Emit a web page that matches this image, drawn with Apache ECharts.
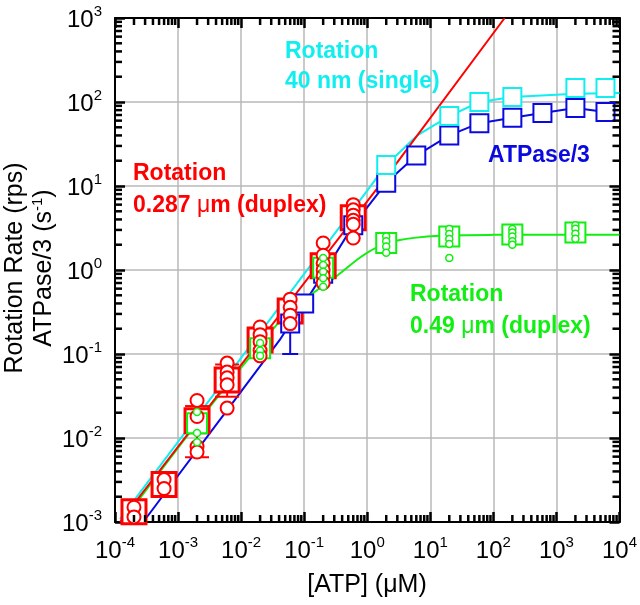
<!DOCTYPE html>
<html><head><meta charset="utf-8">
<script src="https://cdn.jsdelivr.net/npm/echarts@6/dist/echarts.min.js"></script>
<style>html,body{margin:0;padding:0;background:#fff}#c{width:640px;height:605px}</style>
</head><body><div id="c"></div>
<script>
// ---------- tick labels (exponents of 10) ----------
const xTickExponents = [-4, -3, -2, -1, 0, 1, 2, 3, 4];
const yTickExponents = [-3, -2, -1, 0, 1, 2, 3];

// ---------- Rotation 0.287 um (duplex) : red ----------
const redConc = [2e-4, 6e-4, 2e-3, 6e-3, 2e-2, 6e-2, 0.2, 0.6];
const redMean = [1.32e-3, 2.8e-3, 0.016, 0.049, 0.147, 0.325, 1.12, 4.2];
const redIndividual = [
  [2e-4,1.5e-3],[2e-4,1.15e-3],
  [6e-4,3.2e-3],[6e-4,2.5e-3],
  [2e-3,0.028],[2e-3,0.018],[2e-3,0.0079],[2e-3,0.0068],
  [6e-3,0.078],[6e-3,0.061],[6e-3,0.052],[6e-3,0.043],[6e-3,0.0227],
  [0.02,0.21],[0.02,0.17],[0.02,0.14],[0.02,0.11],[0.02,0.095],
  [0.06,0.45],[0.06,0.36],[0.06,0.29],[0.06,0.23],
  [0.2,2.1],[0.2,1.5],[0.2,1.2],[0.2,1.0],[0.2,0.85],[0.2,0.7],
  [0.6,6.0],[0.6,5.2],[0.6,4.5],[0.6,3.9],[0.6,3.5],[0.6,2.4]
];
const redErrorBars = [[2e-3, 0.0059, 0.024], [6e-3, 0.031, 0.075]];
const redFit = [[1.2e-4, 1e-3], [2.95, 18.8], [151, 1000]];

// ---------- Rotation 0.49 um (duplex) : green ----------
const greenConc = [2e-3, 0.02, 0.2, 2, 20, 200, 2000];
const greenMean = [0.015, 0.117, 1.06, 2.09, 2.5, 2.65, 2.8];
const greenIndividual = [
  [2e-3,0.0204],[2e-3,0.0115],[2e-3,0.0089],
  [0.02,0.135],[0.02,0.11],[0.02,0.095],
  [0.2,1.39],[0.2,1.15],[0.2,0.95],[0.2,0.8],[0.2,0.63],
  [2,2.5],[2,2.2],[2,1.9],[2,1.6],
  [20,3.07],[20,2.68],[20,2.34],[20,2.04],[20,1.39],
  [200,3.07],[200,2.8],[200,2.5],[200,2.2],[200,2.0],
  [2000,3.4],[2000,3.1],[2000,2.7],[2000,2.35]
];
const greenFit = [[1.3e-4,1e-3],[2e-3,0.015],[2e-2,0.13],[0.06,0.33],[0.2,0.65],[0.33,0.85],
  [0.76,1.4],[1.4,1.85],[3,2.25],[14,2.55],[100,2.62],[10000,2.63]];

// ---------- Rotation 40 nm (single) : cyan ----------
const cyanConc = [2, 20, 60, 200, 2000, 6000];
const cyanMean = [17.8, 68, 100, 115, 147, 147];
const cyanFit = [[1.2e-4,1.08e-3],[1e-3,9e-3],[1e-2,0.09],[0.1,0.9],[1,8.8],[2,17.8],
  [6.2,40],[20,68],[60,100],[200,115],[2000,125],[10000,128]];

// ---------- ATPase/3 : blue ----------
const blueConc = [0.06, 0.1, 0.2, 0.6, 2, 6, 20, 60, 200, 600, 2000, 6000];
const blueMean = [0.23, 0.40, 0.9, 3.4, 10.9, 23, 40, 56, 65, 74, 85, 76];
const blueErrorBars = [[0.06, 0.1, 0.33]];
const blueLine = [[2.8e-4,1e-3],[7.9e-3,0.0283],[0.041,0.147],[0.06,0.23],[0.1,0.40],[0.2,0.9],
  [0.6,3.4],[2,10.9],[6,23],[20,40],[60,56],[200,65],[600,74],[2000,85],[6000,76]];

// ---------- styling ----------
const RED = '#ff0000', GREEN = '#11ee11', CYAN = '#11eef0', BLUE = '#0a0ae0';
const FONT = 'Liberation Sans, Arial, sans-serif';
const xMin = Math.pow(10, xTickExponents[0]), xMax = Math.pow(10, xTickExponents[xTickExponents.length-1]);
const yMin = Math.pow(10, yTickExponents[0]), yMax = Math.pow(10, yTickExponents[yTickExponents.length-1]);

function pairs(xs, ys) { return xs.map((x, i) => [x, ys[i]]); }
function expLabel(v) {
  const e = Math.round(Math.log10(v));
  return '{b|10}{s|' + e + '}';
}
const labelRich = {
  b: { fontSize: 24, fontFamily: FONT, color: '#000', lineHeight: 28, verticalAlign: 'bottom' },
  s: { fontSize: 15, fontFamily: FONT, color: '#000', lineHeight: 28, verticalAlign: 'top' }
};

// minor tick positions (axis decoration only)
const xMinor = [], yMinor = [];
for (let e = xTickExponents[0]; e < xTickExponents[xTickExponents.length-1]; e++)
  for (let m = 2; m <= 9; m++) xMinor.push(m * Math.pow(10, e));
for (let e = yTickExponents[0]; e < yTickExponents[yTickExponents.length-1]; e++)
  for (let m = 2; m <= 9; m++) yMinor.push(m * Math.pow(10, e));

function baseAxis(pos, min, max, showLabel, showSplit) {
  return {
    type: 'log', logBase: 10, position: pos, min: min, max: max, interval: 1,
    axisLine: { show: true, onZero: false, lineStyle: { color: '#000', width: 2 } },
    axisTick: { show: true, inside: true, length: 10, lineStyle: { color: '#000', width: 2.5 } },
    axisLabel: { show: showLabel, formatter: expLabel, rich: labelRich, margin: 13 },
    splitLine: { show: showSplit, lineStyle: { color: '#b8b8b8', width: 1.5 } }
  };
}
function tickSeries(data, size, offset) {
  return { type: 'scatter', data: data, symbol: 'rect', symbolSize: size, symbolOffset: offset,
    z: 10, itemStyle: { color: '#000', opacity: 1 } };
}

const chart = echarts.init(document.getElementById('c'), null, { renderer: 'canvas' });

const sq = (c, w) => ({ color: '#fff', borderColor: c, borderWidth: w, opacity: 1 });

const option = {
  animation: false,
  backgroundColor: '#fff',
  grid: { left: 115, right: 20, top: 18, bottom: 83, containLabel: false },
  xAxis: [baseAxis('bottom', xMin, xMax, true, true), baseAxis('top', xMin, xMax, false, false)],
  yAxis: [baseAxis('left', yMin, yMax, true, true), baseAxis('right', yMin, yMax, false, false)],
  series: [
    // lines
    { type: 'line', data: blueLine, showSymbol: false, lineStyle: { color: BLUE, width: 2 }, z: 2 },
    { type: 'line', data: cyanFit, showSymbol: false, lineStyle: { color: CYAN, width: 2 }, z: 2 },
    { type: 'line', data: greenFit, showSymbol: false, smooth: 0.3, lineStyle: { color: GREEN, width: 2 }, z: 2 },
    { type: 'line', data: redFit, showSymbol: false, lineStyle: { color: RED, width: 2 }, z: 2 },
    // error bars
    {
      type: 'custom', z: 3, data: redErrorBars.map(d => d.concat([0])).concat(blueErrorBars.map(d => d.concat([1]))),
      encode: { x: 0, y: [1, 2] },
      renderItem: function (params, api) {
        const x = api.value(0), lo = api.value(1), hi = api.value(2);
        const isBlue = api.value(3) === 1;
        const c = isBlue ? BLUE : RED, w = isBlue ? 8 : 12;
        const a = api.coord([x, lo]), b = api.coord([x, hi]);
        return { type: 'group', children: [
          { type: 'line', shape: { x1: a[0], y1: a[1], x2: b[0], y2: b[1] }, style: { stroke: c, lineWidth: 2 } },
          { type: 'line', shape: { x1: a[0] - w, y1: a[1], x2: a[0] + w, y2: a[1] }, style: { stroke: c, lineWidth: 2 } },
          { type: 'line', shape: { x1: b[0] - w, y1: b[1], x2: b[0] + w, y2: b[1] }, style: { stroke: c, lineWidth: 2 } }
        ] };
      }
    },
    // squares
    { type: 'scatter', data: pairs(redConc, redMean), symbol: 'rect', symbolSize: 24, z: 4, itemStyle: sq(RED, 3) },
    { type: 'scatter', data: pairs(blueConc, blueMean), symbol: 'rect', symbolSize: 18, z: 4, itemStyle: sq(BLUE, 2) },
    { type: 'scatter', data: pairs(cyanConc, cyanMean), symbol: 'rect', symbolSize: 18, z: 4, itemStyle: sq(CYAN, 2) },
    { type: 'scatter', data: pairs(greenConc, greenMean), symbol: 'rect', symbolSize: 20, z: 4, itemStyle: sq(GREEN, 2) },
    // individual circles
    { type: 'scatter', data: redIndividual, symbol: 'circle', symbolSize: 13, z: 5, itemStyle: sq(RED, 2) },
    { type: 'scatter', data: greenIndividual, symbol: 'circle', symbolSize: 7, z: 6, itemStyle: sq(GREEN, 1.5) },
    // minor ticks on all four sides
    tickSeries(xMinor.map(v => [v, yMin]), [2.5, 7], [0, -3.5]),
    tickSeries(xMinor.map(v => [v, yMax]), [2.5, 7], [0, 3.5]),
    tickSeries(yMinor.map(v => [xMin, v]), [7, 2.5], [3.5, 0]),
    tickSeries(yMinor.map(v => [xMax, v]), [7, 2.5], [-3.5, 0])
  ],
  graphic: [
    { type: 'text', x: 15, y: 268, rotation: Math.PI / 2, style: {
      text: 'Rotation Rate (rps)', fill: '#000', font: '25px ' + FONT, align: 'center', verticalAlign: 'middle' } },
    { type: 'text', x: 44, y: 268, rotation: Math.PI / 2, style: {
      text: 'ATPase/3 (s{s|-1})', fill: '#000', font: '25px ' + FONT, align: 'center', verticalAlign: 'middle',
      rich: { s: { fontSize: 15, fontFamily: FONT, verticalAlign: 'top', lineHeight: 28 } } } },
    { type: 'text', x: 367, y: 585, style: {
      text: '[ATP] (μM)', fill: '#000', font: '25px ' + FONT, align: 'center', verticalAlign: 'middle' } },
    { type: 'text', x: 285, y: 52, z: 20, style: { text: 'Rotation', fill: CYAN, font: 'bold 23px ' + FONT, verticalAlign: 'middle' } },
    { type: 'text', x: 285, y: 82, z: 20, style: { text: '40 nm (single)', fill: CYAN, font: 'bold 23px ' + FONT, verticalAlign: 'middle' } },
    { type: 'text', x: 133, y: 174, z: 20, style: { text: 'Rotation', fill: RED, font: 'bold 23px ' + FONT, verticalAlign: 'middle' } },
    { type: 'text', x: 133, y: 206, z: 20, style: { text: '0.287 {m|μ}m (duplex)', fill: RED, font: 'bold 23px ' + FONT, verticalAlign: 'middle',
      rich: { m: { fontSize: 23, fontFamily: FONT, fontWeight: 'normal', fill: RED } } } },
    { type: 'text', x: 488, y: 156, z: 20, style: { text: 'ATPase/3', fill: BLUE, font: 'bold 23px ' + FONT, verticalAlign: 'middle' } },
    { type: 'text', x: 410, y: 295, z: 20, style: { text: 'Rotation', fill: GREEN, font: 'bold 23px ' + FONT, verticalAlign: 'middle' } },
    { type: 'text', x: 410, y: 327, z: 20, style: { text: '0.49 {m|μ}m (duplex)', fill: GREEN, font: 'bold 23px ' + FONT, verticalAlign: 'middle',
      rich: { m: { fontSize: 23, fontFamily: FONT, fontWeight: 'normal', fill: GREEN } } } }
  ]
};
chart.setOption(option);
</script>
</body></html>
